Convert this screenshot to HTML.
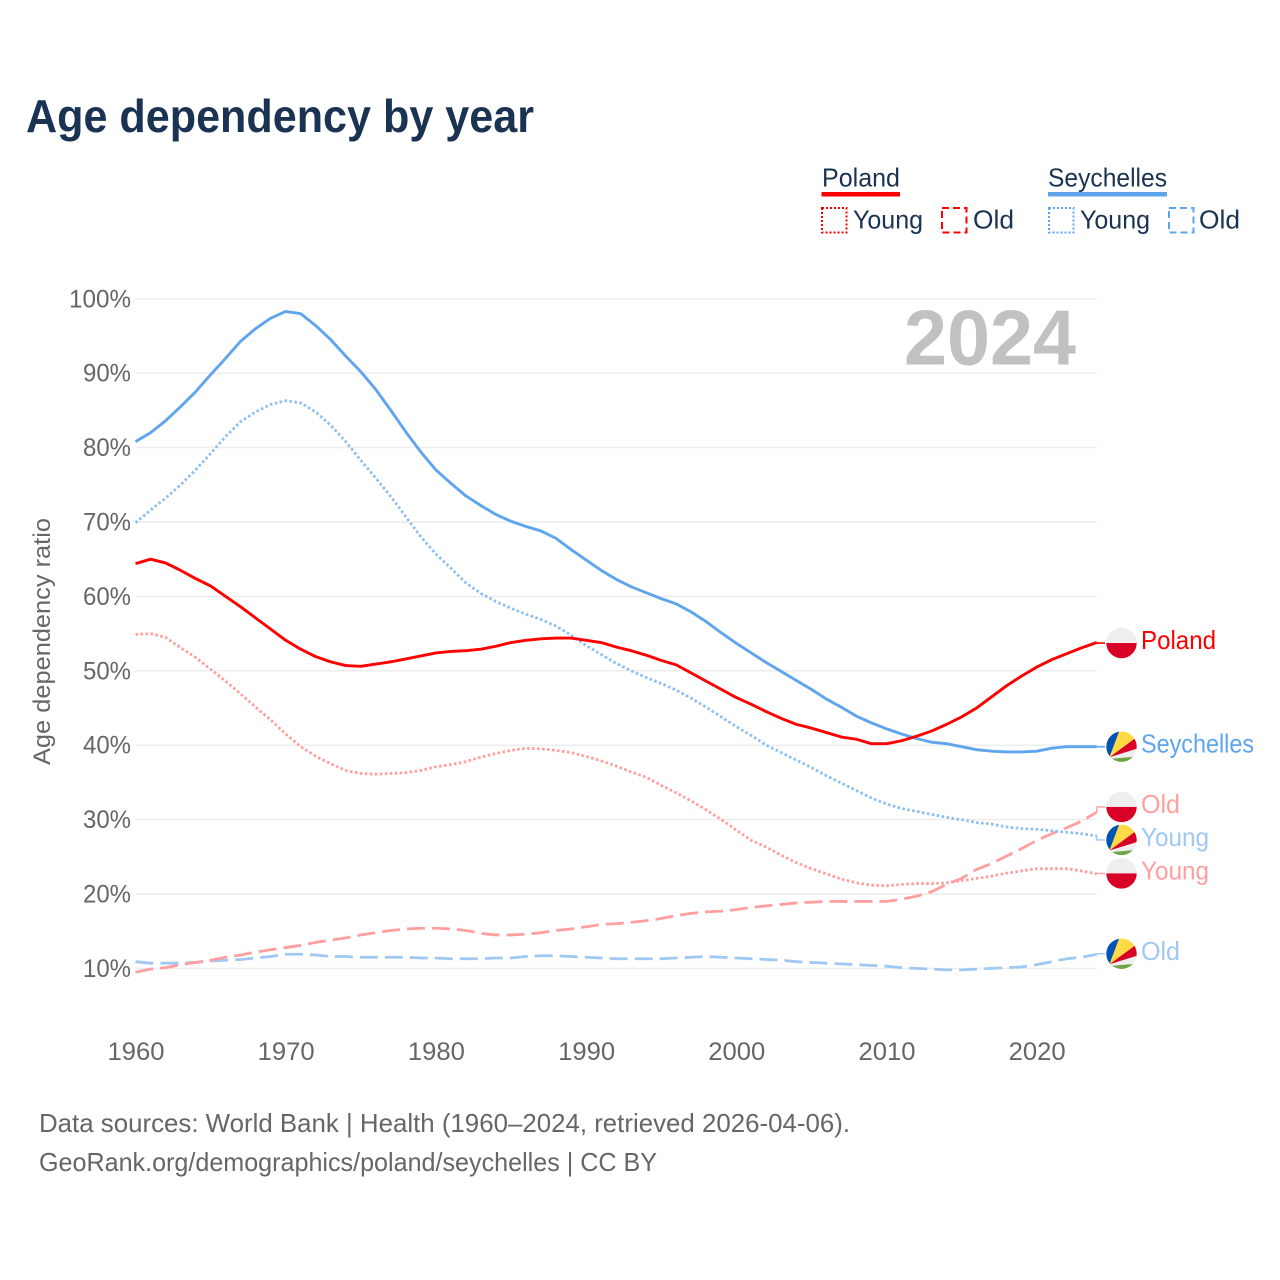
<!DOCTYPE html>
<html lang="en">
<head>
<meta charset="utf-8">
<title>Age dependency by year</title>
<style>
html,body{margin:0;padding:0;background:#fff;}
svg{display:block;font-family:"Liberation Sans",sans-serif;}
</style>
</head>
<body>
<svg id="chart" xmlns="http://www.w3.org/2000/svg" width="1280" height="1280" viewBox="0 0 1280 1280">
  <rect x="0" y="0" width="1280" height="1280" fill="#fff"/>
  <text x="26" y="132" font-size="46" font-weight="700" fill="#1a3353" textLength="508" lengthAdjust="spacingAndGlyphs">Age dependency by year</text>

  <g font-size="26" fill="#1a3353">
    <text x="822" y="186.5" textLength="78" lengthAdjust="spacingAndGlyphs">Poland</text>
    <rect x="821.5" y="192" width="78.5" height="4.5" fill="#ff0000"/>
    <rect x="822" y="208" width="24.5" height="24.5" fill="none" stroke="#ff0000" stroke-width="2" stroke-dasharray="2 2"/>
    <text x="853" y="228.5" textLength="70" lengthAdjust="spacingAndGlyphs">Young</text>
    <rect x="942" y="208" width="24.5" height="24.5" fill="none" stroke="#ff0000" stroke-width="2" stroke-dasharray="7 4"/>
    <text x="973" y="228.5" textLength="41" lengthAdjust="spacingAndGlyphs">Old</text>

    <text x="1048" y="186.5" textLength="119" lengthAdjust="spacingAndGlyphs">Seychelles</text>
    <rect x="1048" y="192" width="119" height="4.5" fill="#5fa5ee"/>
    <rect x="1049" y="208" width="24.5" height="24.5" fill="none" stroke="#5fa5ee" stroke-width="2" stroke-dasharray="2 2"/>
    <text x="1080" y="228.5" textLength="70" lengthAdjust="spacingAndGlyphs">Young</text>
    <rect x="1169" y="208" width="24.5" height="24.5" fill="none" stroke="#5fa5ee" stroke-width="2" stroke-dasharray="7 4"/>
    <text x="1199" y="228.5" textLength="41" lengthAdjust="spacingAndGlyphs">Old</text>
  </g>

  <g id="grid"></g>
  <g id="yticks"></g>
  <g id="xticks"></g>

  <text transform="translate(50,641.5) rotate(-90)" text-anchor="middle" font-size="24" fill="#666" textLength="247" lengthAdjust="spacingAndGlyphs">Age dependency ratio</text>
  <text x="1076" y="364.5" text-anchor="end" font-size="78" font-weight="700" fill="#c1c1c1" textLength="172" lengthAdjust="spacingAndGlyphs">2024</text>

  <g id="series"></g>
  <g id="ends"></g>

  <g font-size="26" fill="#666">
    <text x="39" y="1132" textLength="811" lengthAdjust="spacingAndGlyphs">Data sources: World Bank | Health (1960–2024, retrieved 2026-04-06).</text>
    <text x="39" y="1171" textLength="618" lengthAdjust="spacingAndGlyphs">GeoRank.org/demographics/poland/seychelles | CC BY</text>
  </g>
</svg>

<script>
const firstYear = 1960;
const xTickLabels = ['1960','1970','1980','1990','2000','2010','2020'];
const yTickValues = [10,20,30,40,50,60,70,80,90,100];

const polandTotal = [64.4,65.0,64.5,63.5,62.4,61.4,60.0,58.6,57.1,55.6,54.1,52.9,51.9,51.2,50.7,50.6,50.9,51.2,51.6,52.0,52.4,52.6,52.7,52.9,53.3,53.8,54.1,54.3,54.4,54.4,54.1,53.8,53.2,52.7,52.1,51.4,50.8,49.7,48.6,47.5,46.4,45.5,44.5,43.6,42.8,42.3,41.7,41.1,40.8,40.2,40.2,40.6,41.2,41.9,42.8,43.8,45.0,46.5,48.0,49.3,50.5,51.5,52.3,53.1,53.8];
const polandYoung = [54.9,55.0,54.5,53.1,51.8,50.2,48.6,46.9,45.1,43.4,41.5,39.8,38.5,37.5,36.6,36.2,36.1,36.2,36.3,36.6,37.1,37.4,37.8,38.4,38.9,39.3,39.6,39.5,39.3,39.0,38.5,37.9,37.2,36.4,35.7,34.6,33.6,32.5,31.3,30.0,28.6,27.2,26.3,25.2,24.2,23.4,22.7,22.0,21.5,21.2,21.1,21.3,21.4,21.4,21.5,21.8,22.1,22.4,22.8,23.1,23.4,23.4,23.4,23.1,22.7];
const polandOld = [9.5,9.9,10.1,10.5,10.8,11.1,11.5,11.8,12.2,12.5,12.8,13.1,13.5,13.8,14.1,14.5,14.8,15.1,15.3,15.4,15.4,15.3,15.1,14.7,14.5,14.5,14.6,14.8,15.1,15.3,15.6,15.9,16.0,16.2,16.4,16.7,17.1,17.4,17.6,17.7,17.9,18.2,18.4,18.6,18.8,18.9,19.0,19.0,19.0,19.0,19.0,19.3,19.7,20.3,21.3,22.1,23.3,24.1,25.1,26.1,27.2,28.1,28.9,29.8,31.0];
const seychellesTotal = [80.8,82.0,83.6,85.5,87.5,89.8,92.0,94.3,96.0,97.4,98.3,98.0,96.4,94.5,92.3,90.2,87.8,85.0,82.1,79.4,77.0,75.2,73.5,72.2,71.0,70.1,69.4,68.8,67.8,66.3,64.9,63.5,62.3,61.3,60.5,59.7,59.0,57.9,56.6,55.1,53.7,52.4,51.1,49.9,48.7,47.5,46.2,45.1,43.9,43.0,42.2,41.5,40.9,40.4,40.2,39.8,39.4,39.2,39.1,39.1,39.2,39.6,39.8,39.8,39.8];
const seychellesYoung = [69.9,71.6,73.2,75.0,77.0,79.2,81.5,83.5,84.8,85.8,86.3,86.0,84.8,83.0,80.8,78.3,75.9,73.4,70.7,68.0,65.7,63.8,61.8,60.4,59.3,58.4,57.6,56.9,56.0,54.8,53.4,52.2,51.0,50.0,49.1,48.3,47.4,46.3,45.1,43.8,42.5,41.3,40.0,39.0,38.0,37.0,35.9,34.9,33.9,32.9,32.1,31.5,31.1,30.7,30.3,30.0,29.6,29.4,29.0,28.8,28.7,28.5,28.3,28.1,27.8];
const seychellesOld = [10.9,10.7,10.7,10.7,10.8,11.0,11.1,11.2,11.4,11.6,11.9,11.9,11.8,11.6,11.6,11.5,11.5,11.5,11.5,11.4,11.4,11.3,11.3,11.3,11.4,11.4,11.6,11.7,11.7,11.6,11.5,11.4,11.3,11.3,11.3,11.3,11.4,11.5,11.6,11.5,11.4,11.3,11.2,11.1,10.9,10.8,10.7,10.6,10.5,10.4,10.3,10.1,10.0,9.9,9.8,9.8,9.9,10.0,10.1,10.2,10.5,10.9,11.3,11.5,11.9];

const NS = 'http://www.w3.org/2000/svg';
const xScale = function (year) { return 135.5 + (year - firstYear) * 15.02; };
const yScale = function (value) { return 968.4 - (value - 10) * 7.44; };
const X_END = xScale(firstYear + polandTotal.length - 1);

function make(tag, attrs, parent) {
  const el = document.createElementNS(NS, tag);
  Object.keys(attrs).forEach(function (k) { el.setAttribute(k, attrs[k]); });
  parent.appendChild(el);
  return el;
}

const gridG = document.getElementById('grid');
const yG = document.getElementById('yticks');
const xG = document.getElementById('xticks');
const seriesG = document.getElementById('series');
const endsG = document.getElementById('ends');

yTickValues.forEach(function (v) {
  const line = make('line', {x1: 135.5, x2: X_END, y1: yScale(v), y2: yScale(v), stroke: '#ececec', 'stroke-width': 1.4}, gridG);
  
  
  const label = v + '%';
  const t = make('text', {x: 131, y: yScale(v) + 8.5, 'text-anchor': 'end', 'font-size': 25, fill: '#666', textLength: (label.length - 1) * 14 + 20, lengthAdjust: 'spacingAndGlyphs'}, yG);
  
  
  t.textContent = label;
});

xTickLabels.forEach(function (label) {
  const t = make('text', {x: xScale(Number(label)) + 0.5, y: 1060, 'text-anchor': 'middle', 'font-size': 25, fill: '#666', textLength: 57, lengthAdjust: 'spacingAndGlyphs'}, xG);
  
  
  t.textContent = label;
});

function linePath(values) {
  return values.map(function (v, i) {
    return (i ? 'L' : 'M') + xScale(firstYear + i).toFixed(2) + ' ' + yScale(v).toFixed(2);
  }).join(' ');
}

function drawSeries(name, values, color, width, dash) {
  const attrs = {d: linePath(values), fill: 'none', stroke: color, 'stroke-width': width, 'stroke-linejoin': 'round'};
  if (dash) attrs['stroke-dasharray'] = dash;
  const p = make('path', attrs, seriesG);
  
  
}

drawSeries('line-seychelles-old', seychellesOld, '#9fc8f2', 2.8, '18 7');
drawSeries('line-poland-old', polandOld, '#ff9f9f', 2.8, '18 7');
drawSeries('line-seychelles-young', seychellesYoung, '#8fbff0', 2.8, '2.6 2.4');
drawSeries('line-poland-young', polandYoung, '#ff9f9f', 2.8, '2.6 2.4');
drawSeries('line-seychelles-total', seychellesTotal, '#5fa5ee', 2.9, null);
drawSeries('line-poland-total', polandTotal, '#ff0000', 2.9, null);

let clipCounter = 0;
function drawFlag(kind, name, cy) {
  const cx = 1121.5;
  clipCounter += 1;
  const clipId = 'flag-clip-' + clipCounter;
  const clip = make('clipPath', {id: clipId}, endsG);
  make('circle', {cx: 0, cy: 0, r: 15.2}, clip);
  const g = make('g', {transform: 'translate(' + cx + ',' + cy + ')', 'clip-path': 'url(#' + clipId + ')'}, endsG);
  
  
  if (kind === 'poland') {
    make('rect', {x: -16, y: -16, width: 32, height: 16, fill: '#eeeeee'}, g);
    make('rect', {x: -16, y: 0, width: 32, height: 16, fill: '#d80027'}, g);
  } else {
    make('rect', {x: -16, y: -16, width: 32, height: 32, fill: '#eeeeee'}, g);
    make('polygon', {points: '-12,10.5 -20,12 -20,-20 -0.5,-20', fill: '#0052b4'}, g);
    make('polygon', {points: '-12,10.5 -0.5,-20 20,-20 20,-13', fill: '#ffda44'}, g);
    make('polygon', {points: '-12,10.5 20,-13 20,0.6', fill: '#d80027'}, g);
    make('polygon', {points: '-20,13 20,9.4 20,20 -20,20', fill: '#6da544'}, g);
  }
}

function drawEnd(name, kind, text, values, color, textWidth, offset, dash, lineWidth) {
  const y0 = yScale(values[values.length - 1]);
  const y1 = y0 + offset;
  const attrs = {d: 'M' + X_END + ' ' + y0 + ' L' + X_END + ' ' + y1 + ' L1105 ' + y1, fill: 'none', stroke: color, 'stroke-width': lineWidth};
  if (dash) attrs['stroke-dasharray'] = dash;
  const c = make('path', attrs, endsG);
  
  
  drawFlag(kind, name + '-flag', y1);
  const t = make('text', {x: 1141, y: y1 + 6, 'font-size': 26, fill: color, textLength: textWidth, lengthAdjust: 'spacingAndGlyphs'}, endsG);
  
  
  t.textContent = text;
}

drawEnd('end-poland-total', 'poland', 'Poland', polandTotal, '#ff0000', 75, 0.5, null, 1.6);
drawEnd('end-seychelles-total', 'seychelles', 'Seychelles', seychellesTotal, '#5fa5ee', 113, 0, null, 1.6);
drawEnd('end-poland-old', 'poland', 'Old', polandOld, '#ff9f9f', 39, -5.2, null, 1.4);
drawEnd('end-seychelles-young', 'seychelles', 'Young', seychellesYoung, '#9fc8f2', 68, 4, null, 1.4);
drawEnd('end-poland-young', 'poland', 'Young', polandYoung, '#ff9f9f', 68, -0.5, null, 1.4);
drawEnd('end-seychelles-old', 'seychelles', 'Old', seychellesOld, '#9fc8f2', 39, -0.5, null, 1.4);
</script>
</body>
</html>
